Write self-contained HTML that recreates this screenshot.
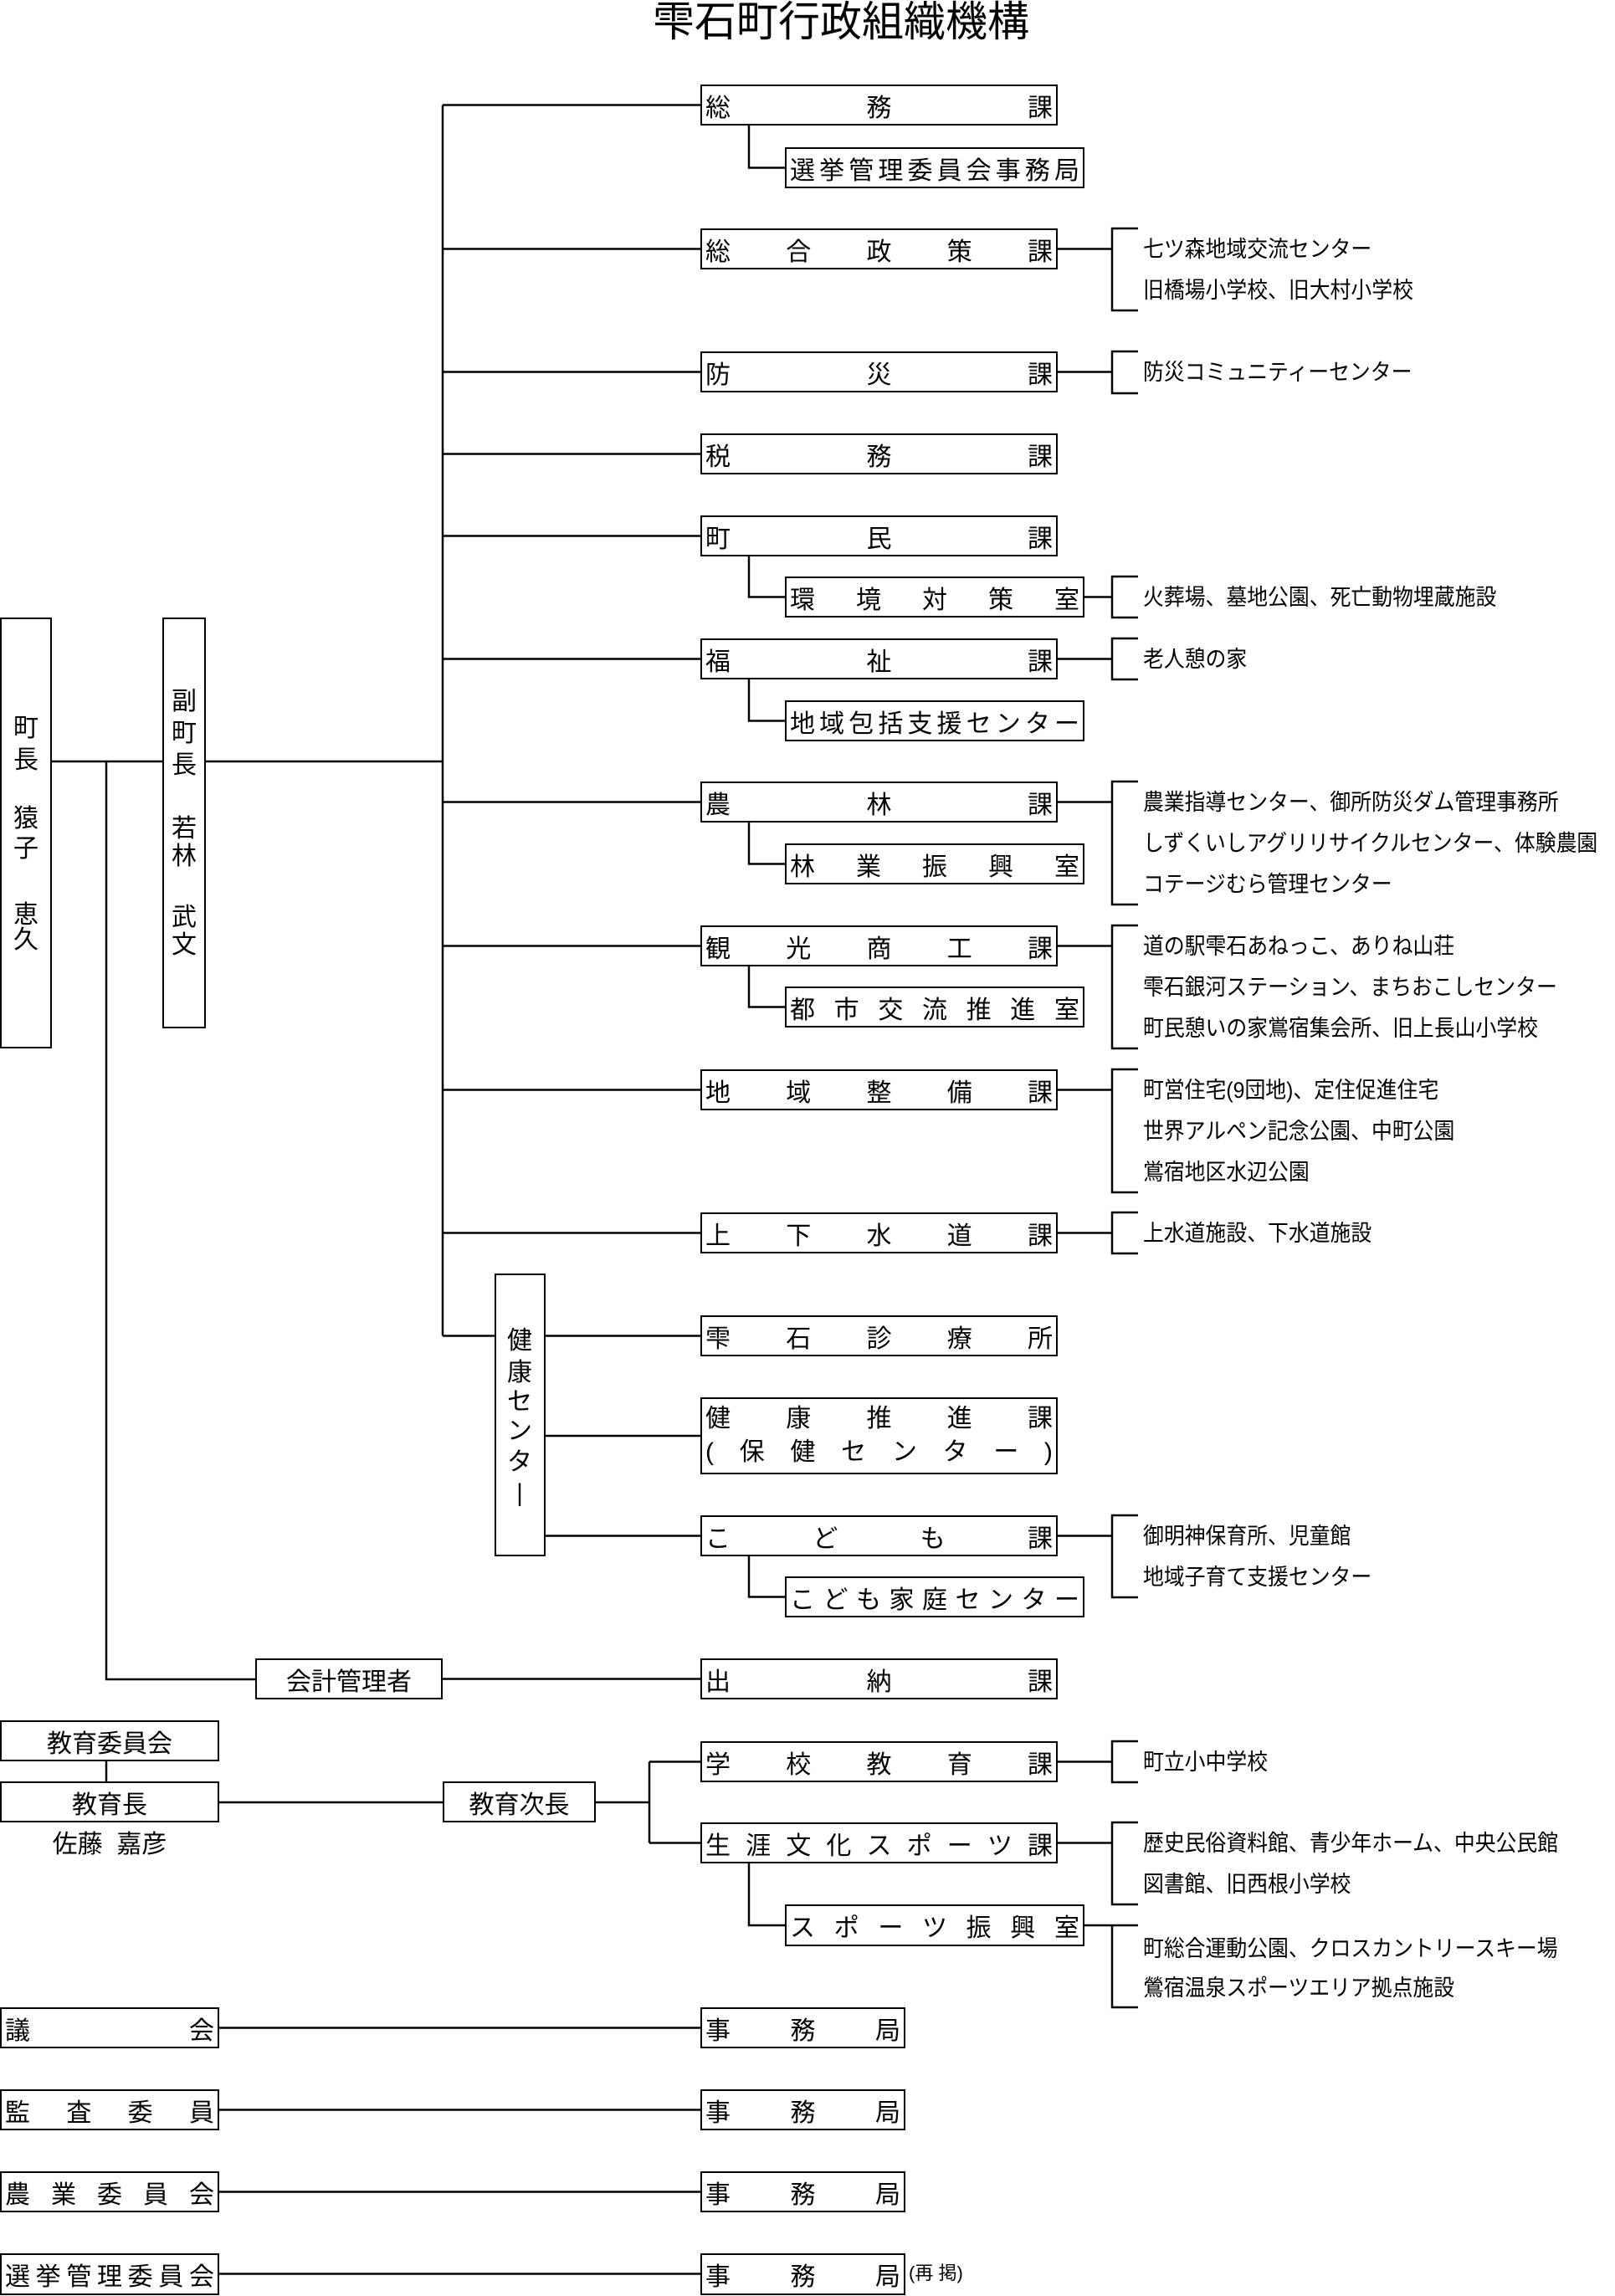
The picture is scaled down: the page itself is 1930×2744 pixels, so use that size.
<!DOCTYPE html>
<html><head><meta charset="utf-8"><style>
body{margin:0;background:#fff}
#c{position:relative;width:1930px;height:2744px;overflow:hidden;font-family:"Liberation Sans","Noto Sans CJK JP",sans-serif;color:#000}
.b{position:absolute;border:2.5px solid #000;box-sizing:border-box;display:flex;justify-content:space-between;align-items:center;padding:0 4px;font-size:30px;background:#fff;white-space:pre}
.cc{justify-content:center}
.t{position:absolute;font-size:27px;white-space:nowrap;line-height:30px;transform:scaleX(0.92);transform-origin:0 0}
.v{position:absolute;width:36px;text-align:center;font-size:30px;line-height:36px}
svg{position:absolute;left:0;top:0}
</style></head><body><div id="c">
<svg width="1930" height="2744" stroke="#000" stroke-width="2.5" fill="none">
<path d="M529 125.5V1596.5M529 125.5H837M529 297.5H837M529 444.5H837M529 542.5H837M529 640.5H837M529 787.5H837M529 958.5H837M529 1130.5H837M529 1302.5H837M529 1473.5H837M529 1596.5H591M652 1596.5H837M652 1716H837M652 1835.5H837"/>
<path d="M895 150V200.5H938M895 665V713.5H938M895 812V861.5H938M895 983V1032.5H938M895 1155V1203.5H938M895 1860V1908.5H938M895 2227V2301H938"/>
<path d="M1264 297.5H1329M1360 273H1329V371H1360M1264 444.5H1329M1360 420H1329V470H1360M1296 713.5H1329M1360 689H1329V738H1360M1264 787.5H1329M1360 763H1329V812H1360M1264 958.5H1329M1360 934H1329V1081H1360M1264 1130.5H1329M1360 1106H1329V1253H1360M1264 1302.5H1329M1360 1278H1329V1425H1360M1264 1473.5H1329M1360 1449H1329V1498H1360M1264 1835.5H1329M1360 1811H1329V1909H1360M1264 2105.5H1329M1360 2081H1329V2130H1360M1264 2202.5H1329M1360 2178H1329V2276H1360M1296 2301H1360M1329 2301V2399H1360"/>
<path d="M62 910H194M246 910H529M127 910V2007H305M529 2006.5H837M127 2105V2129M262 2154H529M712 2154H776M776 2105.5V2202.5M776 2105.5H837M776 2202.5H837M262 2423.5H837M262 2521.5H837M262 2619.5H837M262 2717.5H837"/>
</svg>
<div style="position:absolute;left:773px;top:0;width:464px;text-align:center;font-size:50px;line-height:52px">雫石町行政組織機構</div>

<div class="b" style="left:837px;top:101px;width:427px;height:49px"><span>総</span><span>務</span><span>課</span></div>
<div class="b" style="left:938px;top:176px;width:358px;height:49px"><span>選</span><span>挙</span><span>管</span><span>理</span><span>委</span><span>員</span><span>会</span><span>事</span><span>務</span><span>局</span></div>
<div class="b" style="left:837px;top:273px;width:427px;height:49px"><span>総</span><span>合</span><span>政</span><span>策</span><span>課</span></div>
<div class="b" style="left:837px;top:420px;width:427px;height:49px"><span>防</span><span>災</span><span>課</span></div>
<div class="b" style="left:837px;top:518px;width:427px;height:49px"><span>税</span><span>務</span><span>課</span></div>
<div class="b" style="left:837px;top:616px;width:427px;height:49px"><span>町</span><span>民</span><span>課</span></div>
<div class="b" style="left:938px;top:689px;width:358px;height:49px"><span>環</span><span>境</span><span>対</span><span>策</span><span>室</span></div>
<div class="b" style="left:837px;top:763px;width:427px;height:49px"><span>福</span><span>祉</span><span>課</span></div>
<div class="b" style="left:938px;top:837px;width:358px;height:49px"><span>地</span><span>域</span><span>包</span><span>括</span><span>支</span><span>援</span><span>セ</span><span>ン</span><span>タ</span><span>ー</span></div>
<div class="b" style="left:837px;top:934px;width:427px;height:49px"><span>農</span><span>林</span><span>課</span></div>
<div class="b" style="left:938px;top:1008px;width:358px;height:49px"><span>林</span><span>業</span><span>振</span><span>興</span><span>室</span></div>
<div class="b" style="left:837px;top:1106px;width:427px;height:49px"><span>観</span><span>光</span><span>商</span><span>工</span><span>課</span></div>
<div class="b" style="left:938px;top:1179px;width:358px;height:49px"><span>都</span><span>市</span><span>交</span><span>流</span><span>推</span><span>進</span><span>室</span></div>
<div class="b" style="left:837px;top:1278px;width:427px;height:49px"><span>地</span><span>域</span><span>整</span><span>備</span><span>課</span></div>
<div class="b" style="left:837px;top:1449px;width:427px;height:49px"><span>上</span><span>下</span><span>水</span><span>道</span><span>課</span></div>
<div class="b" style="left:837px;top:1572px;width:427px;height:49px"><span>雫</span><span>石</span><span>診</span><span>療</span><span>所</span></div>
<div class="b" style="left:837px;top:1670px;width:427px;height:92px;flex-direction:column;align-items:stretch;justify-content:center;line-height:40px">
<div style="display:flex;justify-content:space-between"><span>健</span><span>康</span><span>推</span><span>進</span><span>課</span></div>
<div style="display:flex;justify-content:space-between"><span>(</span><span>保</span><span>健</span><span>セ</span><span>ン</span><span>タ</span><span>ー</span><span>)</span></div></div>
<div class="b" style="left:837px;top:1811px;width:427px;height:49px"><span>こ</span><span>ど</span><span>も</span><span>課</span></div>
<div class="b" style="left:938px;top:1884px;width:358px;height:49px"><span>こ</span><span>ど</span><span>も</span><span>家</span><span>庭</span><span>セ</span><span>ン</span><span>タ</span><span>ー</span></div>
<div class="b" style="left:837px;top:1982px;width:427px;height:49px"><span>出</span><span>納</span><span>課</span></div>
<div class="b" style="left:837px;top:2081px;width:427px;height:49px"><span>学</span><span>校</span><span>教</span><span>育</span><span>課</span></div>
<div class="b" style="left:837px;top:2178px;width:427px;height:49px"><span>生</span><span>涯</span><span>文</span><span>化</span><span>ス</span><span>ポ</span><span>ー</span><span>ツ</span><span>課</span></div>
<div class="b" style="left:938px;top:2276px;width:358px;height:50px"><span>ス</span><span>ポ</span><span>ー</span><span>ツ</span><span>振</span><span>興</span><span>室</span></div>

<div class="b" style="left:0;top:738px;width:62px;height:515px"></div>
<div class="b" style="left:194px;top:738px;width:52px;height:491px"></div>
<div class="b" style="left:591px;top:1522px;width:61px;height:338px"></div>
<div class="v" style="left:13px;top:853px">町</div><div class="v" style="left:13px;top:891px">長</div>
<div class="v" style="left:13px;top:961px">猿</div><div class="v" style="left:13px;top:997px">子</div>
<div class="v" style="left:13px;top:1076px">恵</div><div class="v" style="left:13px;top:1106px">久</div>
<div class="v" style="left:202px;top:821px">副</div><div class="v" style="left:202px;top:859px">町</div><div class="v" style="left:202px;top:897px">長</div>
<div class="v" style="left:202px;top:973px">若</div><div class="v" style="left:202px;top:1006px">林</div>
<div class="v" style="left:202px;top:1079px">武</div><div class="v" style="left:202px;top:1112px">文</div>
<div class="v" style="left:603px;top:1585px">健</div><div class="v" style="left:603px;top:1623px">康</div><div class="v" style="left:603px;top:1658px">セ</div><div class="v" style="left:603px;top:1693px">ン</div><div class="v" style="left:603px;top:1730px">タ</div><div class="v" style="left:603px;top:1767px">|</div>

<div class="b cc" style="left:305px;top:1982px;width:224px;height:49px">会計管理者</div>
<div class="b cc" style="left:0;top:2056px;width:262px;height:49px">教育委員会</div>
<div class="b cc" style="left:0;top:2129px;width:262px;height:49px">教育長</div>
<div style="position:absolute;left:0;top:2187px;width:262px;text-align:center;font-size:30px;line-height:36px;white-space:pre">佐藤  嘉彦</div>
<div class="b cc" style="left:529px;top:2129px;width:183px;height:49px">教育次長</div>

<div class="b" style="left:0;top:2399px;width:262px;height:49px"><span>議</span><span>会</span></div>
<div class="b" style="left:0;top:2497px;width:262px;height:49px"><span>監</span><span>査</span><span>委</span><span>員</span></div>
<div class="b" style="left:0;top:2595px;width:262px;height:49px"><span>農</span><span>業</span><span>委</span><span>員</span><span>会</span></div>
<div class="b" style="left:0;top:2693px;width:262px;height:50px"><span>選</span><span>挙</span><span>管</span><span>理</span><span>委</span><span>員</span><span>会</span></div>
<div class="b" style="left:837px;top:2399px;width:245px;height:49px"><span>事</span><span>務</span><span>局</span></div>
<div class="b" style="left:837px;top:2497px;width:245px;height:49px"><span>事</span><span>務</span><span>局</span></div>
<div class="b" style="left:837px;top:2595px;width:245px;height:49px"><span>事</span><span>務</span><span>局</span></div>
<div class="b" style="left:837px;top:2693px;width:245px;height:50px"><span>事</span><span>務</span><span>局</span></div>
<div style="position:absolute;left:1086px;top:2704px;font-size:22px;line-height:26px;white-space:pre">(再 掲)</div>

<div class="t" style="left:1366px;top:283px">七ツ森地域交流センター</div>
<div class="t" style="left:1366px;top:332px">旧橋場小学校、旧大村小学校</div>
<div class="t" style="left:1366px;top:430px">防災コミュニティーセンター</div>
<div class="t" style="left:1366px;top:699px">火葬場、墓地公園、死亡動物埋蔵施設</div>
<div class="t" style="left:1366px;top:773px">老人憩の家</div>
<div class="t" style="left:1366px;top:944px">農業指導センター、御所防災ダム管理事務所</div>
<div class="t" style="left:1366px;top:993px">しずくいしアグリリサイクルセンター、体験農園</div>
<div class="t" style="left:1366px;top:1042px">コテージむら管理センター</div>
<div class="t" style="left:1366px;top:1116px">道の駅雫石あねっこ、ありね山荘</div>
<div class="t" style="left:1366px;top:1165px">雫石銀河ステーション、まちおこしセンター</div>
<div class="t" style="left:1366px;top:1214px">町民憩いの家鴬宿集会所、旧上長山小学校</div>
<div class="t" style="left:1366px;top:1288px">町営住宅(9団地)、定住促進住宅</div>
<div class="t" style="left:1366px;top:1337px">世界アルペン記念公園、中町公園</div>
<div class="t" style="left:1366px;top:1386px">鴬宿地区水辺公園</div>
<div class="t" style="left:1366px;top:1459px">上水道施設、下水道施設</div>
<div class="t" style="left:1366px;top:1821px">御明神保育所、児童館</div>
<div class="t" style="left:1366px;top:1870px">地域子育て支援センター</div>
<div class="t" style="left:1366px;top:2091px">町立小中学校</div>
<div class="t" style="left:1366px;top:2188px">歴史民俗資料館、青少年ホーム、中央公民館</div>
<div class="t" style="left:1366px;top:2237px">図書館、旧西根小学校</div>
<div class="t" style="left:1366px;top:2314px">町総合運動公園、クロスカントリースキー場</div>
<div class="t" style="left:1366px;top:2361px">鶯宿温泉スポーツエリア拠点施設</div>
</div></body></html>
